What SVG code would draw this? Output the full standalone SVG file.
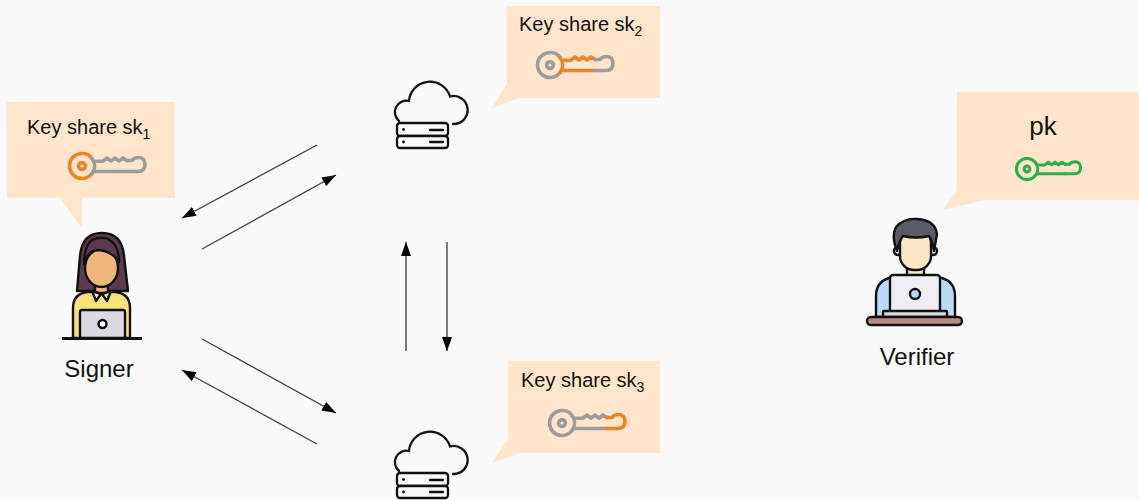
<svg xmlns="http://www.w3.org/2000/svg" xmlns:xlink="http://www.w3.org/1999/xlink" width="1139" height="500" viewBox="0 0 1139 500">
  <style>
    .bubble { fill: #ffe5cc; }
    .label { font-family: "Liberation Sans", "DejaVu Sans", sans-serif; fill: #111; }
    .share { font-size: 20px; }
    .sub { font-size: 14px; }
    .name { font-size: 24px; }
    .keypart { fill: none; stroke-width: 3.6; stroke-linecap: round; stroke-linejoin: round; }
    .conn { stroke: #444; stroke-width: 1.4; fill: none; marker-end: url(#arrow); }
    .cloud { fill: none; stroke: #111; stroke-width: 2.3; stroke-linecap: round; }
    .srv { fill: #fafafa; stroke: #111; stroke-width: 2.3; }
    .ink { stroke: #111; stroke-width: 2.4; stroke-linejoin: round; stroke-linecap: round; }
  </style>
  <defs>
    <marker id="arrow" markerUnits="userSpaceOnUse" markerWidth="14" markerHeight="10" refX="14" refY="5" orient="auto">
      <path d="M0,0 L14,5 L0,10 Z" fill="#000"/>
    </marker>
    <!-- key split into three parts so each part can take its own colour -->
    <g id="key-ring" class="keypart">
      <path d="M 10.2,-7.3 A 12.5 12.5 0 1 0 10.2,7.3"/>
      <circle r="3.4"/>
    </g>
    <g id="key-shaft" class="keypart">
      <path d="M 10.2,-7.3 A 12.5 12.5 0 0 1 10.2,7.3"/>
      <path d="M 12,-4.8 L 21,-4.8 L 25,-8 L 29,-4.8 L 33,-8 L 37,-4.8 L 41,-8 L 45,-5.5"/>
      <path d="M 12,5.5 L 45,5.5"/>
    </g>
    <g id="key-tip" class="keypart">
      <path d="M 45,-5.5 L 50,-5.5 C 52,-8.5 55,-8.5 57,-8.5 C 61,-8.5 63,-5 63,-1.5 C 63,3.5 60,5.5 56,5.5 L 45,5.5"/>
    </g>
    <!-- cloud with a server rack -->
    <g id="cloud-server">
      <path class="cloud" d="M 399,121 A 11.5 11.5 0 0 1 409,101 A 21 21 0 0 1 450,96.5 A 14 14 0 1 1 453,124"/>
      <rect class="srv" x="397" y="123" width="51" height="13" rx="3"/>
      <rect class="srv" x="397" y="136" width="51" height="12" rx="3"/>
      <circle cx="403.5" cy="129.5" r="1.4" fill="#111"/>
      <circle cx="403.5" cy="142" r="1.4" fill="#111"/>
      <path d="M 430,130 H 443 M 430,142 H 443" stroke="#111" stroke-width="2.3" stroke-linecap="round"/>
    </g>
  </defs>

  <rect width="1139" height="500" fill="#fafafa"/>

  <!-- connectors -->
  <g id="connectors">
    <line class="conn" x1="317" y1="145" x2="182" y2="218"/>
    <line class="conn" x1="202" y1="249" x2="336" y2="175"/>
    <line class="conn" x1="202" y1="339" x2="336" y2="413"/>
    <line class="conn" x1="317" y1="444" x2="182" y2="370"/>
    <line class="conn" x1="406" y1="351" x2="406" y2="242"/>
    <line class="conn" x1="447" y1="242" x2="447" y2="351"/>
  </g>

  <!-- signer -->
  <g id="signer">
    <path class="bubble" d="M 7,102 H 175 V 198 H 82 V 228 L 60,198 H 7 Z"/>
    <text class="label share" x="27" y="134">Key share sk<tspan class="sub" dy="5">1</tspan></text>
    <g transform="translate(82,166)">
      <use xlink:href="#key-ring" stroke="#ea8426"/>
      <use xlink:href="#key-shaft" stroke="#9d9d9d"/>
      <use xlink:href="#key-tip" stroke="#9d9d9d"/>
    </g>
    <!-- person at laptop -->
    <path class="ink" fill="#5e3b4c" d="M 77,291 L 80,256 Q 82,233 102,233 Q 122,233 124,256 L 128,291 Z"/>
    <path class="ink" fill="#f6e27a" d="M 73,338 V 308 Q 73,294 87,292 L 116,292 Q 130,294 130,308 V 338 Z"/>
    <rect class="ink" fill="#efb679" x="95" y="282" width="13" height="11"/>
    <path class="ink" fill="#fbeda0" d="M 92,291 L 101,294 L 96,301 Z M 111,291 L 102,294 L 107,301 Z"/>
    <ellipse class="ink" fill="#efb679" cx="101.5" cy="268" rx="16.5" ry="19"/>
    <path class="ink" fill="#5e3b4c" d="M 84,264 Q 88,250 98,250 Q 112,251 119,262 Q 119,244 108,239 Q 100,236 92,240 Q 84,246 84,264 Z"/>
    <rect class="ink" fill="#d9d9de" x="80" y="310" width="45" height="28" rx="2"/>
    <circle class="ink" fill="#fff" cx="102.5" cy="324" r="4"/>
    <path d="M 62,338.5 H 142" stroke="#111" stroke-width="3"/>
    <text class="label name" x="99" y="377" text-anchor="middle">Signer</text>
  </g>

  <!-- server holding sk2 -->
  <g id="server2">
    <use xlink:href="#cloud-server"/>
    <path class="bubble" d="M 507,6 H 660 V 98 H 520 L 492,108 L 507,84 Z"/>
    <text class="label share" x="519" y="31">Key share sk<tspan class="sub" dy="5">2</tspan></text>
    <g transform="translate(550,65)">
      <use xlink:href="#key-ring" stroke="#9d9d9d"/>
      <use xlink:href="#key-shaft" stroke="#ea8426"/>
      <use xlink:href="#key-tip" stroke="#9d9d9d"/>
    </g>
  </g>

  <!-- server holding sk3 -->
  <g id="server3">
    <use xlink:href="#cloud-server" transform="translate(0,350)"/>
    <path class="bubble" d="M 508,361 H 660 V 453 H 521 L 492,463 L 508,439 Z"/>
    <text class="label share" x="521" y="387">Key share sk<tspan class="sub" dy="5">3</tspan></text>
    <g transform="translate(562,423)">
      <use xlink:href="#key-ring" stroke="#9d9d9d"/>
      <use xlink:href="#key-shaft" stroke="#9d9d9d"/>
      <use xlink:href="#key-tip" stroke="#ea8426"/>
    </g>
  </g>

  <!-- verifier -->
  <g id="verifier">
    <path class="bubble" d="M 957,92 H 1139 V 200 H 985 L 943,210 L 957,190 Z"/>
    <text class="label" x="1043" y="135" font-size="26" text-anchor="middle">pk</text>
    <g transform="translate(1027,169) scale(0.85)">
      <use xlink:href="#key-ring" stroke="#2db04b"/>
      <use xlink:href="#key-shaft" stroke="#2db04b"/>
      <use xlink:href="#key-tip" stroke="#2db04b"/>
    </g>
    <!-- person at laptop -->
    <path class="ink" fill="#bcdaf6" d="M 876,317 V 296 Q 876,280 893,277 L 938,277 Q 955,280 955,296 V 317 Z"/>
    <rect class="ink" fill="#fbe7c6" x="907" y="262" width="17" height="16"/>
    <circle class="ink" fill="#fbe7c6" cx="898" cy="251" r="4"/>
    <circle class="ink" fill="#fbe7c6" cx="933" cy="251" r="4"/>
    <rect class="ink" fill="#fbe7c6" x="900" y="228" width="31" height="42" rx="14"/>
    <path class="ink" fill="#5b5b68" d="M 897,251 Q 891,236 896,227 Q 904,218 917,219 Q 935,220 937,234 L 934,251 Q 932,240 929,236 Q 916,239 903,236 Q 899,241 897,251 Z"/>
    <rect class="ink" fill="#eeeef4" x="890" y="275" width="50" height="38" rx="3"/>
    <circle class="ink" fill="#bcdaf6" cx="915" cy="294" r="5"/>
    <rect class="ink" fill="#d8d8e0" x="883" y="311" width="64" height="6" rx="1"/>
    <rect class="ink" fill="#b98a86" x="867" y="317" width="95" height="8" rx="4"/>
    <text class="label name" x="917" y="365" text-anchor="middle">Verifier</text>
  </g>
</svg>
